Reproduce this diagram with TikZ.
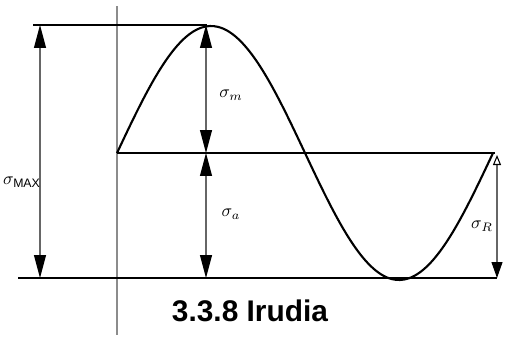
\documentclass[tikz,border=0pt]{standalone}
\usepackage{fontspec}
\setmainfont{Liberation Sans}
\usepackage{tikz}
\usetikzlibrary{arrows.meta, positioning}
\tikzset{
	guide/.style   ={line width=1pt, black},
	axisline/.style={line width=1.7pt, black!45},
	curve/.style   ={line width=1.2pt, black, smooth},
	dim/.style     ={{Triangle[length=0.46cm, width=0.24cm, black]}-{Triangle[length=0.46cm, width=0.24cm, black]}, line width=0.6pt, black!60},
	dimopen/.style ={{Triangle[open, length=0.2cm, width=0.16cm, black]}-{Triangle[length=0.32cm, width=0.22cm, black]}, line width=0.6pt, black!60},
	lbl/.style     ={font=\normalsize, inner sep=1pt},
}
\begin{document}
\begin{tikzpicture}[x=0.02cm, y=-0.02cm]
	\useasboundingbox (0,0) rectangle (506,338);
	% axis and reference lines
	\coordinate (axT) at (117,6);   \coordinate (axB) at (117,335);
	\coordinate (maxL) at (33,25);  \coordinate (peak) at (207,25);
	\coordinate (midL) at (117,153); \coordinate (midR) at (495,153);
	\coordinate (botL) at (18,278); \coordinate (botR) at (497,278);
	\draw[axisline] (axT) -- (axB);
	\draw[guide] (maxL) -- (peak);
	\draw[guide] (midL) -- (midR);
	\draw[guide] (botL) -- (botR);
	% stress curve
	\draw[curve] plot[domain=0:376, samples=90] ({117+\x},{153-127*sin(\x/376*360)});
	% dimension arrows
	\coordinate (a1) at (40,25);  \coordinate (a2) at (40,278);
	\coordinate (b1) at (206,25); \coordinate (b2) at (206,153); \coordinate (b3) at (206,278);
	\coordinate (c1) at (497,155); \coordinate (c2) at (497,278);
	\draw[dim] (a1) -- (a2);
	\draw[dim] (b1) -- (b2);
	\draw[dim] (b2) -- (b3);
	\draw[dimopen] (c1) -- (c2);
	% labels
	\node[lbl] (smax) at (22,182) {$\sigma_{\mathrm{MAX}}$};
	\node[lbl] (sm) at (231,95) {$\sigma_{m}$};
	\node[lbl] (sa) at (231,214) {$\sigma_{a}$};
	\node[lbl] (sr) at (482,226) {$\sigma_{R}$};
	\node[font=\bfseries\fontsize{17}{20}\selectfont] (cap) at (250,311) {3.3.8 Irudia};
\end{tikzpicture}
\end{document}
